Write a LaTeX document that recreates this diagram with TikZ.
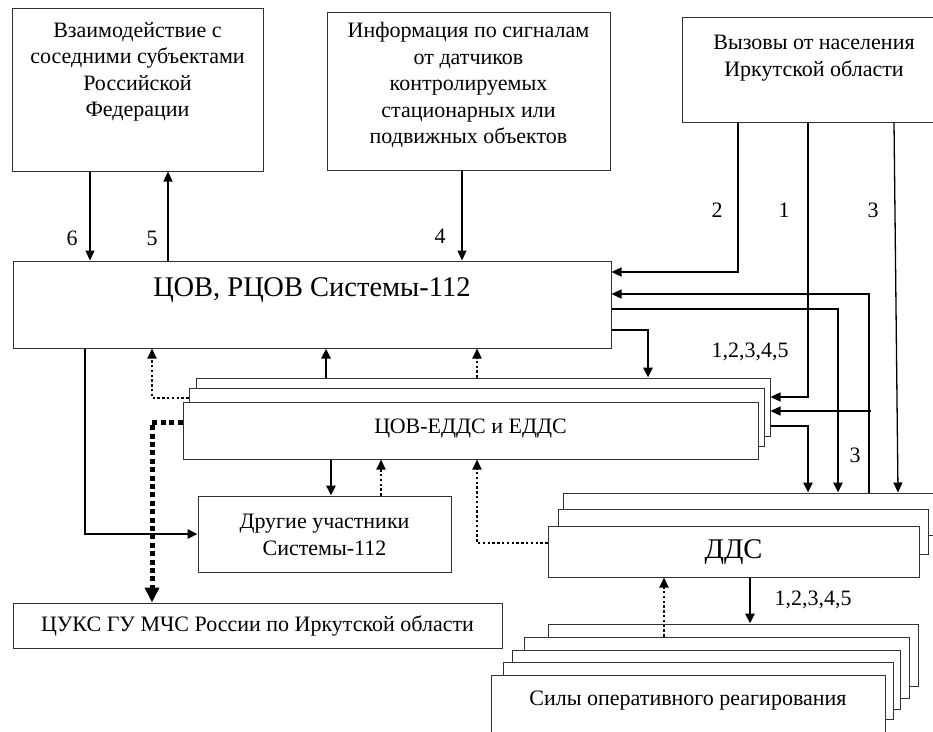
\documentclass[tikz,border=0pt]{standalone}
\usepackage{fontspec}
\setmainfont{Liberation Serif}
\usepackage{tikz}
\usetikzlibrary{positioning,arrows.meta}
\tikzset{d/.style={line width=1.3pt}}
\tikzset{dd/.style={line width=2.6pt}}
\tikzset{dt/.style={line width=2.2pt,dash pattern=on 2.4pt off 2.4pt}}
\tikzset{ddt/.style={line width=5pt,dash pattern=on 5pt off 3.4pt}}

\begin{document}
\begin{tikzpicture}[x=1pt,y=-1pt,
box/.style={draw=black!80, fill=white, line width=1pt, inner sep=0pt},
txt/.style={align=center, inner sep=0pt, font=\fontsize{22}{26.5}\selectfont},
big/.style={align=center, inner sep=0pt, font=\fontsize{28.5}{32}\selectfont},
tip/.style={-{Triangle[length=10pt,width=9pt]}},
btip/.style={-{Triangle[length=15pt,width=14pt]}},
]
\useasboundingbox (0,0) rectangle (933,731);
\clip (0,0) rectangle (933,731);
\fill[white] (0,0) rectangle (933,731);

% upper boxes
\node[box, minimum width=251, minimum height=163] (vz) at (137.5,89.5) {};
\node[txt] (vzt) at (137.5,72) {Взаимодействие с\\соседними субъектами\\Российской\\Федерации};
\node[box, minimum width=283, minimum height=158] (inf) at (468.5,91) {};
\node[txt] (inft) at (468.5,85) {Информация по сигналам\\от датчиков\\контролируемых\\стационарных или\\подвижных объектов};
\node[box, minimum width=264, minimum height=105] (vyz) at (814,69.5) {};
\node[txt] (vyzt) at (814,58) {Вызовы от населения\\Иркутской области};

% main box
\node[box, minimum width=598, minimum height=87] (cov) at (312,304.5) {};
\node[big] (covt) at (312,290) {ЦОВ, РЦОВ Системы-112};

% EDDS stack
\node[box, minimum width=574, minimum height=58] (eb) at (483,407) {};
\node[box, minimum width=575, minimum height=58] (em) at (476.5,417) {};
\node[box, minimum width=575, minimum height=57] (ef) at (470.5,430.5) {};
\node[txt] (eft) at (470.5,429) {ЦОВ-ЕДДС и ЕДДС};

\node[box, minimum width=253, minimum height=76] (dr) at (324.5,534) {};
\node[txt] (drt) at (324.5,535) {Другие участники\\Системы-112};
\node[box, minimum width=489, minimum height=45] (cuks) at (257.5,625.5) {};
\node[txt] (cukst) at (257.5,626) {ЦУКС ГУ МЧС России по Иркутской области};

% DDS stack
\node[box, minimum width=383, minimum height=42] (ddsb) at (754.5,514) {};
\node[box, minimum width=370, minimum height=45] (ddsm) at (743,531.5) {};
\node[box, minimum width=371, minimum height=51] (ddsf) at (733.5,551.5) {};
\node[big] (ddst) at (733.5,552) {ДДС};

% forces stack
\node[box, minimum width=370, minimum height=62] (s1) at (733,655) {};
\node[box, minimum width=385, minimum height=61] (s2) at (716.5,667.5) {};
\node[box, minimum width=388, minimum height=59] (s3) at (706,679.5) {};
\node[box, minimum width=390, minimum height=57] (s4) at (698,690.5) {};
\node[box, minimum width=394, minimum height=85] (s5) at (688,717.5) {};
\node[txt] (s5t) at (688,701) {Силы оперативного реагирования};

% top arrows
\draw[d,tip] (vz.south -| 90,0) -- (cov.north -| 90,0);
\draw[d,tip] (cov.north -| 168,0) -- (vz.south -| 168,0);
\draw[d,tip] (inf.south -| 462,0) -- (cov.north -| 462,0);
\draw[d,tip] (vyz.south -| 738,0) |- (cov.east |- 0,272);
\draw[d,tip] (vyz.south -| 808,0) |- (eb.east |- 0,397);
\draw[d,tip] (vyz.south -| 894,0) -- (ddsb.north -| 898,0);
\draw[d,tip] (ddsb.north -| 869,-3) |- (cov.east |- 0,294);
\coordinate (br3) at (871,411);
\draw[d,tip] (br3) -- (eb.east |- br3);

\node[txt] (l6) at (72,238) {6};
\node[txt] (l5) at (152,238) {5};
\node[txt] (l4) at (440,236) {4};
\node[txt] (l2) at (717,210) {2};
\node[txt] (l1) at (784,210) {1};
\node[txt] (l3) at (873,210) {3};
\node[txt] (l12a) at (750,352) {1,2,3,4,5};
\node[txt] (l3b) at (855,455) {3};
\node[txt] (l12b) at (813,600) {1,2,3,4,5};

% thick links
\draw[dd,tip] (cov.east |- 0,309) -| (ddsb.north -| 838,0);
\draw[dd,tip] (cov.east |- 0,330) -| (eb.north -| 648,0);
\draw[dd,tip] (eb.east |- 0,426) -| (ddsb.north -| 808,0);
\draw[dd,tip] (eb.north -| 326,0) -- (cov.south -| 326,0);
\draw[dt,tip] (eb.north -| 477,0) -- (cov.south -| 477,0);
\draw[dt,tip] (em.west |- 0,398) -| (cov.south -| 152,0);
\draw[dd,tip] (cov.south -| 85,0) |- (dr.west);
\draw[ddt,btip] (ef.west |- 0,422) -| (cuks.north -| 152,0);
\draw[dd,tip] (ef.south -| 331,0) -- (dr.north -| 331,0);
\draw[dt,tip] (dr.north -| 381,0) -- (ef.south -| 381,0);
\draw[dt,tip] (ddsf.west |- 0,543) -| (ef.south -| 477,0);
\draw[dd,tip] (ddsf.south -| 750,0) -- (s1.north -| 750,0);
\draw[dt,tip] (s2.north -| 664,0) -- (ddsf.south -| 664,0);
\end{tikzpicture}
\end{document}
